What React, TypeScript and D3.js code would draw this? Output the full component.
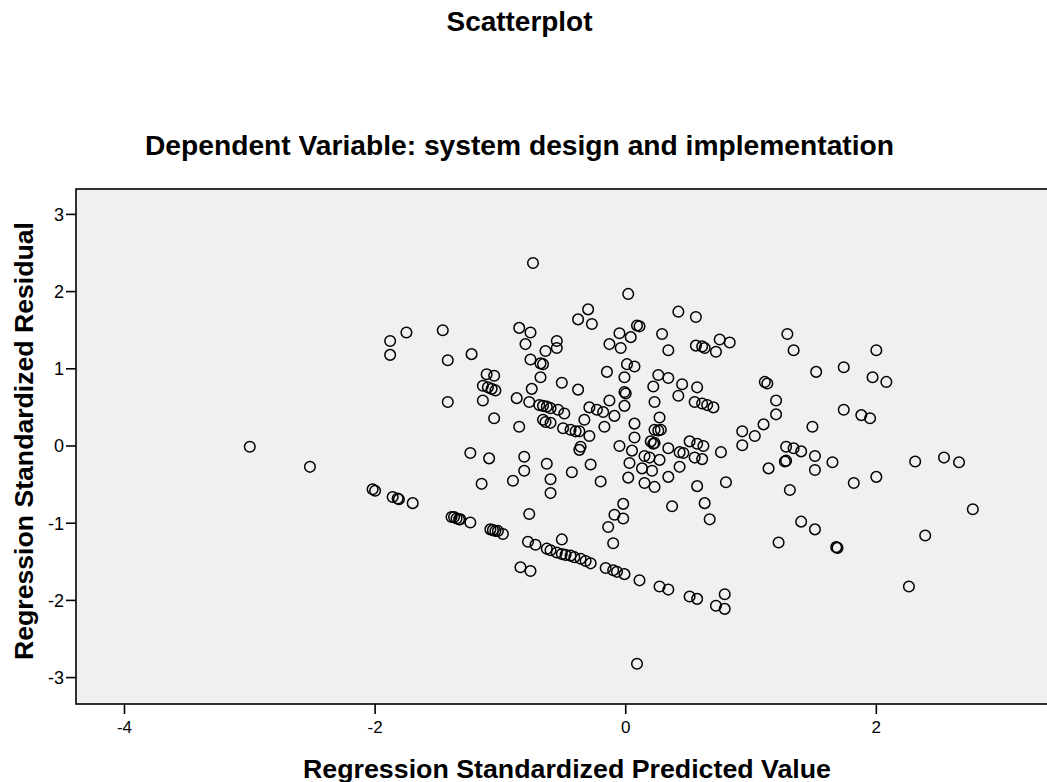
import React, { useEffect, useRef } from "react";
import * as d3 from "d3";

const chartTitle = "Scatterplot";
const subTitle = "Dependent Variable: system design and implementation";
const xAxisTitle = "Regression Standardized Predicted Value";
const yAxisTitle = "Regression Standardized Residual";
const xTicks = [-4, -2, 0, 2];
const yTicks = [-3, -2, -1, 0, 1, 2, 3];

// Regression standardized predicted values
const predicted = [
  -3.00, -2.52,
  -2.02, -2.00, -1.86, -1.82, -1.81, -1.70, -1.39, -1.37, -1.35, -1.33, -1.32, -1.24,
  -1.08, -1.06, -1.04, -1.02, -0.98, -0.84, -0.76, -0.78, -0.72, -0.63, -0.60, -0.55,
  -0.51, -0.48, -0.44, -0.41, -0.36, -0.32, -0.28, -0.51, -0.16, -0.10, -0.07, -0.01,
  -0.10, 0.11, 0.27, 0.34, 0.51, 0.57, 0.79, 0.72, 0.79, 0.09, -0.14, -0.09, -0.02,
  -0.02, 0.37, 0.63, 0.67,
  1.40, 1.51, 1.22, 1.68, 1.69, 2.39, 2.26, 2.77,
  -0.74, -1.88, -1.88, -1.75, -1.46, -1.42, -1.23, -1.42, -1.11, -1.05, -1.14, -1.10,
  -1.07, -1.04, -1.14, -1.05, -0.85, -0.76, -0.80, -0.76, -0.68, -0.66, -0.64, -0.55,
  -0.55, -0.68, -0.75, -0.87, -0.77, -0.69, -0.66, -0.63, -0.60, -0.54, -0.66, -0.64,
  -0.60, -0.85, -0.51, -0.50,
  -1.24, -1.09, -1.15, -0.81, -0.81, -0.90, -0.63, -0.60, -0.60, -0.77,
  0.02, -0.30, -0.38, -0.27, 0.09, 0.11, 0.42, 0.56, -0.05, 0.04, -0.13, -0.04, 0.29,
  0.34, 0.56, 0.61, 0.63, 0.72, 0.75, 0.83, -0.15, 0.01, 0.07, -0.01, 0.26, 0.34,
  -0.38, -0.01, 0.00, 0.22, 0.45, 0.57, 0.42, 0.23, 0.55, 0.61, 0.65, 0.70, -0.01,
  -0.13, -0.29, -0.23, -0.18, -0.49, -0.09, -0.33, 0.07, 0.27, -0.17, -0.44, -0.40,
  -0.37, -0.29, 0.07, 0.23, 0.26, 0.28, 0.20, 0.23, 0.22, 0.34, 0.51, 0.57, 0.62,
  0.93, 0.93, 1.03, 0.76, 0.43, 0.46, 0.55, 0.61, -0.05, 0.05, -0.36, -0.37, 0.15,
  0.19, 0.27, 0.03, -0.28, 0.43, 0.13, 0.21, -0.43, 0.34, 0.02, -0.20, 0.15, 0.23,
  0.57, 0.80,
  1.29, 1.34, 2.00, 1.52, 1.74, 1.97, 2.08, 1.11, 1.13, 1.20, 1.20, 1.10, 1.49, 1.74,
  1.88, 1.95, 1.28, 1.34, 1.40, 1.28, 1.27, 1.51, 1.14, 1.51, 1.65, 1.31, 1.82, 2.00,
  2.31, 2.54, 2.66,
];

// Regression standardized residuals (same order as predicted)
const residual = [
  -0.01, -0.27,
  -0.56, -0.58, -0.66, -0.68, -0.69, -0.74, -0.92, -0.92, -0.94, -0.95, -0.95, -0.99,
  -1.08, -1.09, -1.10, -1.10, -1.14, -1.57, -1.62, -1.24, -1.28, -1.33, -1.35, -1.38,
  -1.40, -1.41, -1.42, -1.44, -1.46, -1.49, -1.52, -1.21, -1.58, -1.61, -1.63, -1.66,
  -1.26, -1.74, -1.82, -1.86, -1.95, -1.98, -1.92, -2.07, -2.11, -2.82, -1.05, -0.89,
  -0.94, -0.75, -0.78, -0.74, -0.95,
  -0.98, -1.08, -1.25, -1.31, -1.32, -1.16, -1.82, -0.82,
  2.37, 1.36, 1.18, 1.47, 1.50, 1.11, 1.19, 0.57, 0.93, 0.91, 0.78, 0.76,
  0.74, 0.72, 0.59, 0.36, 1.53, 1.47, 1.32, 1.12, 1.07, 1.06, 1.23, 1.36,
  1.27, 0.89, 0.74, 0.62, 0.57, 0.53, 0.52, 0.51, 0.49, 0.47, 0.34, 0.31,
  0.30, 0.25, 0.82, 0.23,
  -0.09, -0.16, -0.49, -0.14, -0.32, -0.45, -0.23, -0.43, -0.61, -0.88,
  1.97, 1.77, 1.64, 1.58, 1.56, 1.55, 1.74, 1.67, 1.46, 1.41, 1.32, 1.27, 1.45,
  1.24, 1.30, 1.29, 1.27, 1.22, 1.38, 1.34, 0.96, 1.06, 1.03, 0.89, 0.92, 0.88,
  0.73, 0.70, 0.68, 0.77, 0.80, 0.76, 0.65, 0.57, 0.57, 0.55, 0.53, 0.50, 0.52,
  0.59, 0.50, 0.47, 0.44, 0.42, 0.39, 0.34, 0.29, 0.37, 0.25, 0.21, 0.19,
  0.19, 0.13, 0.11, 0.21, 0.20, 0.21, 0.06, 0.04, 0.03, -0.03, 0.06, 0.03, 0.00,
  0.19, 0.01, 0.13, -0.08, -0.08, -0.09, -0.15, -0.17, 0.00, -0.06, -0.01, -0.05, -0.13,
  -0.15, -0.18, -0.22, -0.24, -0.27, -0.29, -0.32, -0.34, -0.40, -0.41, -0.46, -0.48, -0.53,
  -0.52, -0.47,
  1.45, 1.24, 1.24, 0.96, 1.02, 0.89, 0.83, 0.83, 0.81, 0.59, 0.41, 0.28, 0.25, 0.47,
  0.40, 0.36, -0.01, -0.03, -0.07, -0.19, -0.20, -0.13, -0.29, -0.31, -0.21, -0.57, -0.48, -0.40,
  -0.20, -0.15, -0.21,
];

const W = 1047;
const H = 782;
const FONT = "'Liberation Sans', Arial, Helvetica, sans-serif";

export default function App() {
  const ref = useRef<SVGSVGElement | null>(null);

  useEffect(() => {
    const svg = d3.select(ref.current);
    svg.selectAll("*").remove();

    const left = 76, right = 1049, top = 189, bottom = 704;
    const x = d3.scaleLinear().domain([-4.387, 3.362]).range([76, 1047]);
    const y = d3.scaleLinear().domain([-3.342, 3.329]).range([bottom, top]);

    svg.append("rect").attr("x", 0).attr("y", 0).attr("width", W).attr("height", H).attr("fill", "#ffffff");

    svg.append("rect")
      .attr("x", left).attr("y", top)
      .attr("width", right - left).attr("height", bottom - top)
      .attr("fill", "#f0f0f0")
      .attr("stroke", "#000").attr("stroke-width", 1.6);

    const pts = predicted.map((p, i) => ({ p, r: residual[i] }));
    svg.append("g")
      .selectAll("circle")
      .data(pts)
      .enter()
      .append("circle")
      .attr("cx", (d) => x(d.p))
      .attr("cy", (d) => y(d.r))
      .attr("r", 5.3)
      .attr("fill", "none")
      .attr("stroke", "#000")
      .attr("stroke-width", 1.5);

    // y ticks
    const gy = svg.append("g");
    yTicks.forEach((t) => {
      gy.append("line")
        .attr("x1", left - 10).attr("x2", left)
        .attr("y1", y(t)).attr("y2", y(t))
        .attr("stroke", "#000").attr("stroke-width", 1.6);
      gy.append("text")
        .attr("x", left - 12).attr("y", y(t) + 6.5)
        .attr("text-anchor", "end")
        .attr("font-family", FONT).attr("font-size", 18)
        .attr("fill", "#000")
        .text(String(t));
    });

    // x ticks
    const gx = svg.append("g");
    xTicks.forEach((t) => {
      gx.append("line")
        .attr("x1", x(t)).attr("x2", x(t))
        .attr("y1", bottom).attr("y2", bottom + 10)
        .attr("stroke", "#000").attr("stroke-width", 1.6);
      gx.append("text")
        .attr("x", x(t)).attr("y", bottom + 29)
        .attr("text-anchor", "middle")
        .attr("font-family", FONT).attr("font-size", 17)
        .attr("fill", "#000")
        .text(String(t));
    });

    svg.append("text")
      .attr("x", 519.5).attr("y", 31)
      .attr("text-anchor", "middle")
      .attr("font-family", FONT).attr("font-weight", "bold").attr("font-size", 27)
      .attr("textLength", 146).attr("lengthAdjust", "spacingAndGlyphs")
      .text(chartTitle);

    svg.append("text")
      .attr("x", 519.5).attr("y", 155)
      .attr("text-anchor", "middle")
      .attr("font-family", FONT).attr("font-weight", "bold").attr("font-size", 28)
      .attr("textLength", 749).attr("lengthAdjust", "spacingAndGlyphs")
      .text(subTitle);

    svg.append("text")
      .attr("x", 303).attr("y", 778)
      .attr("text-anchor", "start")
      .attr("font-family", FONT).attr("font-weight", "bold").attr("font-size", 25)
      .attr("textLength", 528).attr("lengthAdjust", "spacingAndGlyphs")
      .text(xAxisTitle);

    svg.append("text")
      .attr("transform", "translate(33,441) rotate(-90)")
      .attr("text-anchor", "middle")
      .attr("font-family", FONT).attr("font-weight", "bold").attr("font-size", 25)
      .attr("textLength", 438).attr("lengthAdjust", "spacingAndGlyphs")
      .text(yAxisTitle);
  }, []);

  return (
    <svg
      ref={ref}
      width={W}
      height={H}
      style={{ position: "absolute", left: 0, top: 0, display: "block" }}
    />
  );
}
